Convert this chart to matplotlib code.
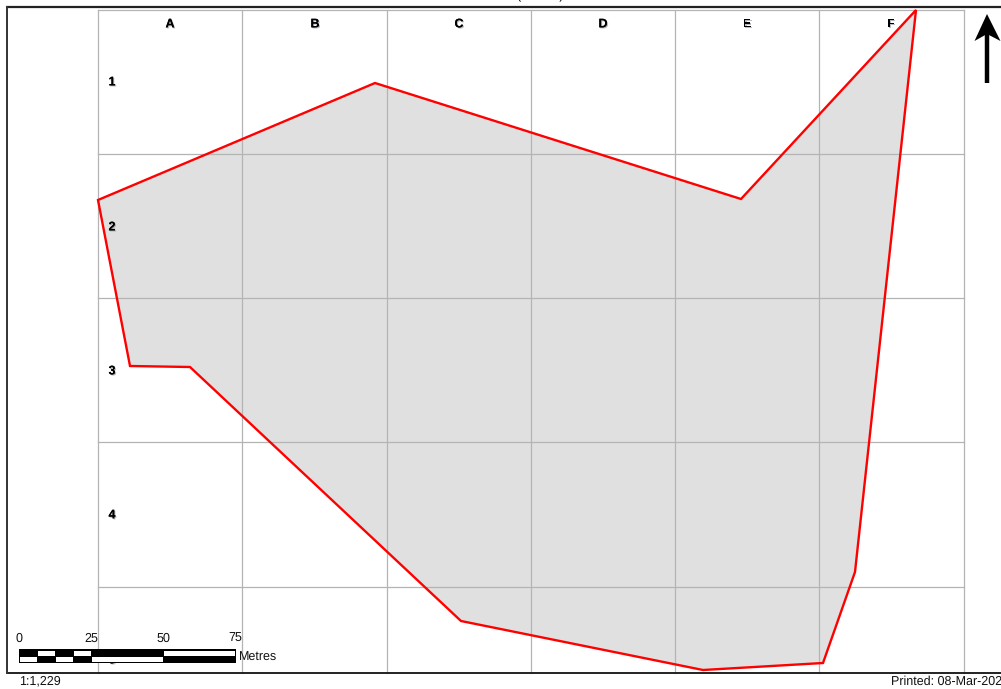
import matplotlib
matplotlib.use('Agg')
import matplotlib.pyplot as plt
import matplotlib.patheffects as pe
from matplotlib.patches import Polygon, Rectangle

plt.rcParams['font.family'] = ['Liberation Sans', 'DejaVu Sans']
plt.rcParams['text.hinting'] = 'no_hinting'

W, H = 1001, 689

# site boundary in pixels
boundary_x = [98, 375, 741, 916, 855, 823, 703, 461, 190, 130]
boundary_y = [200, 83, 199, 10, 572, 663, 670, 621, 367, 366]

grid_x = [98, 242, 387, 531, 675, 819, 964]
grid_y = [9.5, 154, 298, 442, 587]

col_labels = ['A', 'B', 'C', 'D', 'E', 'F']
col_label_x = [170, 315, 459, 603, 747, 891]
row_labels = ['1', '2', '3', '4', '5']
row_label_y = [82, 227, 371, 515, 660]

scale_labels = ['0', '25', '50', '75']
scale_label_x = [19, 91, 163, 235]
# white blocks of the scale bar: (x0, x1) per row
scale_top_white = [(38, 55), (74, 91), (164, 235)]
scale_bottom_white = [(20, 37), (56, 73), (92, 163)]

fig = plt.figure(figsize=(W / 100, H / 100), dpi=100)
ax = fig.add_axes([0, 0, 1, 1])
ax.set_xlim(0, W)
ax.set_ylim(H, 0)
ax.axis('off')

shadow = [pe.withSimplePatchShadow(offset=(0.8, -0.8), shadow_rgbFace='#8a8f96', alpha=0.6), pe.Normal()]

# shaded area under the grid
ax.add_patch(Polygon(list(zip(boundary_x, boundary_y)), closed=True, fc='#e0e0e0', ec='none', zorder=1))

for x in grid_x:
    ax.plot([x, x], [9.5, 673], color='#b4b4b4', lw=0.9, zorder=2)
for y in grid_y:
    ax.plot([98, 964], [y, y], color='#b4b4b4', lw=0.9, zorder=2)

ax.add_patch(Polygon(list(zip(boundary_x, boundary_y)), closed=True, fc='none', ec='#ff0000', lw=1.7,
                     joinstyle='miter', zorder=3))

for lab, x in zip(col_labels, col_label_x):
    ax.text(x, 24, lab, ha='center', va='center', fontsize=9, fontweight='bold', color='black',
            path_effects=shadow, zorder=4)
for lab, y in zip(row_labels, row_label_y):
    ax.text(112, y, lab, ha='center', va='center', fontsize=9, fontweight='bold', color='black',
            path_effects=shadow, zorder=4)

# map frame
ax.plot([6, W], [6.5, 6.5], color='#222222', lw=1.6, solid_capstyle='butt', zorder=6)
ax.plot([6, W], [673, 673], color='#222222', lw=1.4, solid_capstyle='butt', zorder=6)
ax.plot([7, 7], [6, 673.5], color='#333333', lw=1.4, solid_capstyle='butt', zorder=6)

# clipped title at the very top
ax.text(540, -4.5, '(           )', ha='center', va='center', fontsize=9, color='black', zorder=5)

# north arrow
ax.plot([987, 987], [30, 83], color='black', lw=3.2, solid_capstyle='butt', zorder=5)
ax.add_patch(Polygon([(987, 14), (974.5, 41), (987, 34), (1000.5, 41)], closed=True, fc='black', ec='none', zorder=5))

# scale bar
ax.add_patch(Rectangle((19, 649), 217, 14, fc='black', ec='none', zorder=7))
for x0, x1 in scale_top_white:
    ax.add_patch(Rectangle((x0, 651), x1 - x0, 4.5, fc='white', ec='none', zorder=8))
for x0, x1 in scale_bottom_white:
    ax.add_patch(Rectangle((x0, 656.5), x1 - x0, 5, fc='white', ec='none', zorder=8))

for lab, x in zip(scale_labels, scale_label_x):
    ax.text(x, 638.5, lab, ha='center', va='center', fontsize=9, color='#111111', zorder=8)
ax.text(239, 658, 'Metres', ha='left', va='center', fontsize=9, color='#111111', zorder=8)
ax.text(19, 681, '1:1,229', ha='left', va='center', fontsize=9, color='#111111', zorder=8)
ax.text(891, 681.5, 'Printed: 08-Mar-2024', ha='left', va='center', fontsize=9, color='#111111', zorder=8)

fig.savefig('out.png', dpi=100)
